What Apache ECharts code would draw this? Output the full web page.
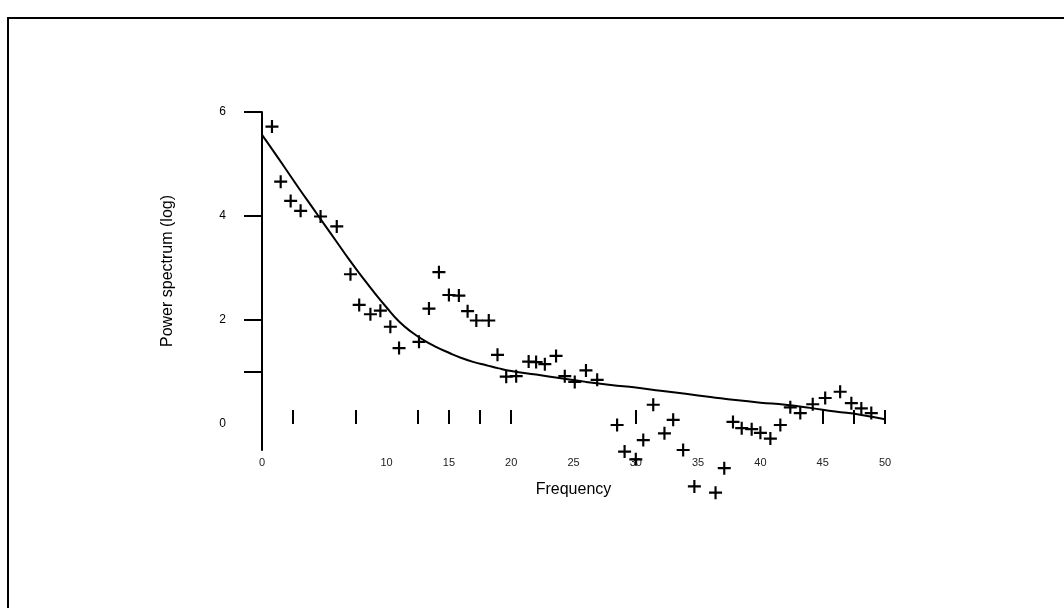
<!DOCTYPE html>
<html>
<head>
<meta charset="utf-8">
<title>Power spectrum</title>
<script src="https://cdn.jsdelivr.net/npm/echarts@6/dist/echarts.min.js"></script>
<style>
  html,body{margin:0;padding:0;background:#fff;}
  #chart{width:1064px;height:608px;}
</style>
</head>
<body>
<div id="chart"></div>
<script>
// fitted curve
var fitX = [0, 1, 2, 3, 4, 5, 6, 7, 8, 9, 10, 11, 12, 13, 14, 15, 16, 17, 18, 19, 20, 22, 24, 26, 28, 30, 32, 34, 36, 38, 40, 42, 44, 46, 48, 50];
var fitY = [5.56, 5.22, 4.87, 4.52, 4.18, 3.84, 3.5, 3.16, 2.84, 2.53, 2.24, 1.97, 1.77, 1.61, 1.48, 1.37, 1.27, 1.19, 1.13, 1.07, 1.02, 0.95, 0.88, 0.81, 0.75, 0.7, 0.64, 0.58, 0.52, 0.46, 0.41, 0.37, 0.31, 0.24, 0.18, 0.09];

// measured points
var ptX = [0.8, 1.5, 2.3, 3.1, 4.7, 6.0, 7.1, 7.8, 8.7, 9.5, 10.3, 11.0, 12.6, 13.4, 14.2, 15.0, 15.8, 16.5, 17.2, 18.2, 18.9, 19.6, 20.4, 21.4, 22.0, 22.7, 23.6, 24.3, 25.1, 26.0, 26.9, 28.5, 29.1, 30.0, 30.6, 31.4, 32.3, 33.0, 33.8, 34.7, 36.4, 37.1, 37.8, 38.5, 39.3, 40.0, 40.8, 41.6, 42.4, 43.2, 44.2, 45.2, 46.4, 47.3, 48.1, 48.9];
var ptY = [5.72, 4.66, 4.29, 4.1, 3.99, 3.8, 2.88, 2.29, 2.11, 2.18, 1.87, 1.46, 1.58, 2.22, 2.92, 2.48, 2.47, 2.17, 1.99, 1.99, 1.33, 0.91, 0.92, 1.2, 1.19, 1.15, 1.31, 0.92, 0.81, 1.03, 0.85, -0.02, -0.53, -0.68, -0.31, 0.37, -0.18, 0.08, -0.5, -1.2, -1.32, -0.85, 0.04, -0.08, -0.1, -0.17, -0.28, -0.02, 0.32, 0.21, 0.38, 0.5, 0.62, 0.4, 0.3, 0.21];

var xLabels = [0, 10, 15, 20, 25, 30, 35, 40, 45, 50];
var xTicks = [2.5, 7.5, 12.5, 15, 17.5, 20, 30, 45, 47.5, 50];
var yLabels = [0, 2, 4, 6];
var yTicks = [1, 2, 4, 6];

var plus = 'path://M5,0h2v5h5v2h-5v5h-2v-5h-5v-2h5z';

var chart = echarts.init(document.getElementById('chart'));

var option = {
    animation: false,
    backgroundColor: '#fff',
    graphic: [{
        type: 'rect',
        shape: {x: 8, y: 18, width: 1100, height: 700},
        style: {fill: 'none', stroke: '#000', lineWidth: 2}
    }],
    grid: {left: 262, right: 179, top: 112, bottom: 158},
    xAxis: {
        type: 'value',
        min: 0,
        max: 50,
        name: 'Frequency',
        nameLocation: 'middle',
        nameGap: 32,
        nameTextStyle: {color: '#000', fontSize: 16, fontFamily: 'Liberation Sans'},
        axisLine: {show: false},
        axisTick: {show: true, inside: true, length: 14, customValues: xTicks, lineStyle: {color: '#000', width: 2}},
        axisLabel: {customValues: xLabels, color: '#222', fontSize: 11, margin: 7, fontFamily: 'Liberation Sans'},
        splitLine: {show: false}
    },
    yAxis: {
        type: 'value',
        min: -0.5,
        max: 6,
        name: 'Power spectrum (log)',
        nameLocation: 'middle',
        nameRotate: 90,
        nameGap: 86,
        nameTextStyle: {color: '#000', fontSize: 16, fontFamily: 'Liberation Sans', padding: [0, 0, 0, 20]},
        axisLine: {show: true, lineStyle: {color: '#000', width: 2}},
        axisTick: {show: true, length: 18, customValues: yTicks, lineStyle: {color: '#000', width: 2}},
        axisLabel: {customValues: yLabels, color: '#000', fontSize: 12, margin: 36, fontFamily: 'Liberation Sans'},
        splitLine: {show: false}
    },
    series: [{
        type: 'line',
        data: fitX.map(function (x, i) { return [x, fitY[i]]; }),
        smooth: true,
        showSymbol: false,
        lineStyle: {color: '#000', width: 2}
    }, {
        type: 'scatter',
        data: ptX.map(function (x, i) { return [x, ptY[i]]; }),
        symbol: plus,
        symbolSize: 13,
        clip: false,
        itemStyle: {color: '#000', opacity: 1}
    }]
};

chart.setOption(option);
</script>
</body>
</html>
